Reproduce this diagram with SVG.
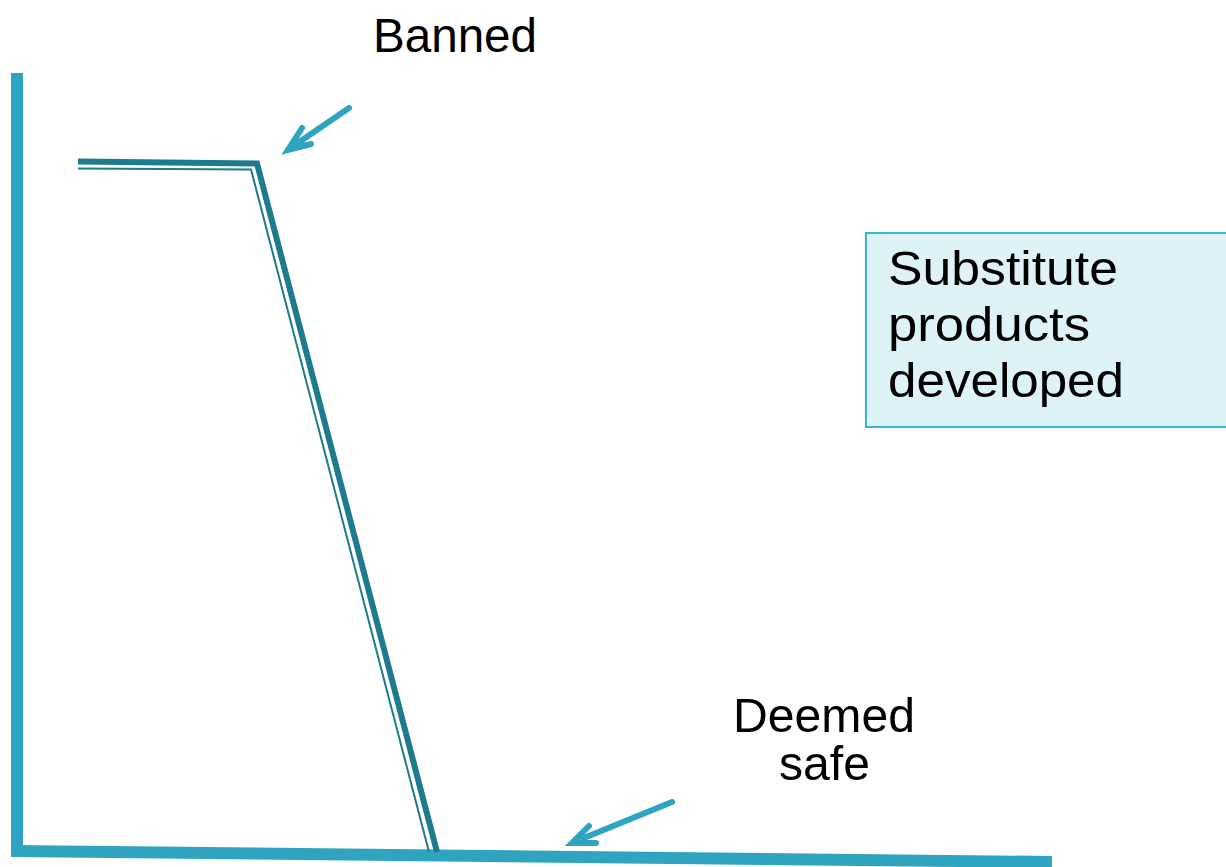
<svg xmlns="http://www.w3.org/2000/svg" width="1226" height="867" viewBox="0 0 1226 867">
<style>
.t{font-family:"Liberation Sans",Arial,sans-serif;fill:#000}
.axis{stroke:#2EA4C1;stroke-width:12;fill:none}
.arr{stroke:#2EA4C1;stroke-width:6;fill:none;stroke-linecap:round;stroke-linejoin:miter}
.thick{stroke:#1E7A8D;stroke-width:6;fill:none;stroke-linejoin:miter}
.thin{stroke:#1E7A8D;stroke-width:2;fill:none}
</style>
<rect width="1226" height="867" fill="#fff"/>
<g id="axes">
<line class="axis" x1="17" y1="73" x2="17" y2="856"/>
<line class="axis" x1="11" y1="851" x2="1052" y2="862"/>
</g>
<g id="curve">
<polyline class="thin" points="78,168.5 251,169.5 429,852"/>
<polyline class="thick" points="78,161.5 257,163.5 437,852"/>
</g>
<g id="connectors">
<path class="arr" d="M349,108 L289,149 M302,128 L288,150 L311,144"/>
<path class="arr" d="M672,802 L574,842 M589,826 L572,843 L596,843"/>
</g>
<g id="banned">
<text class="t" x="373" y="51.5" font-size="48" textLength="164" lengthAdjust="spacingAndGlyphs">Banned</text>
</g>
<g id="deemed">
<text class="t" x="733" y="731.5" font-size="48" textLength="182" lengthAdjust="spacingAndGlyphs">Deemed</text>
<text class="t" x="779" y="780" font-size="48" textLength="91" lengthAdjust="spacingAndGlyphs">safe</text>
</g>
<g id="substitute">
<rect x="866" y="233" width="372" height="194" fill="#DDF3F8" stroke="#3BB3D6" stroke-width="2"/>
<text class="t" x="888" y="285" font-size="49" textLength="230" lengthAdjust="spacingAndGlyphs">Substitute</text>
<text class="t" x="888" y="341" font-size="49" textLength="202" lengthAdjust="spacingAndGlyphs">products</text>
<text class="t" x="888" y="397" font-size="49" textLength="236" lengthAdjust="spacingAndGlyphs">developed</text>
</g>
</svg>
